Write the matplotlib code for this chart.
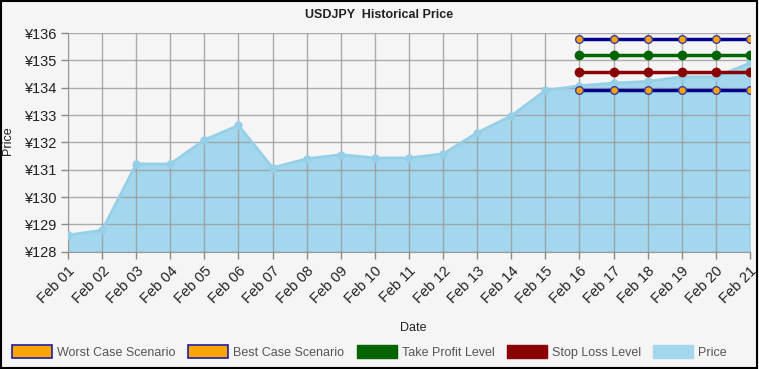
import matplotlib.pyplot as plt
import matplotlib.patches as mpatches

plt.rcParams['font.family'] = ['Liberation Sans', 'DejaVu Sans']

dates = ['Feb %02d' % d for d in range(1, 22)]
price = [128.61, 128.78, 131.21, 131.21, 132.09, 132.62, 131.07, 131.40,
         131.55, 131.43, 131.43, 131.58, 132.35, 132.97, 133.90, 134.07,
         134.17, 134.23, 134.40, 134.40, 134.90]
scen_dates = dates[15:]
worst_case = [133.90] * 6
best_case = [135.80] * 6
take_profit = [135.20] * 6
stop_loss = [134.56] * 6

yticks = [128, 129, 130, 131, 132, 133, 134, 135, 136]

fig = plt.figure(figsize=(7.59, 3.69), dpi=100, facecolor='#f5f5f5')
ax = fig.add_axes([0.0896, 0.318, 0.8984, 0.5924])
ax.set_facecolor('#f5f5f5')

x = list(range(len(dates)))
xs = x[15:]

ax.fill_between(x, price, 128, color='#a3d7ee', zorder=2)
ax.plot(x, price, color='#96cfe8', lw=2, marker='o', ms=5,
        mfc='#96cfe8', mec='#96cfe8', zorder=3)

ax.plot(xs, best_case, color='#00008b', lw=2.5, marker='o', ms=5.5,
        mfc='#ffa500', mec='#3b3ba0', mew=1, zorder=4)
ax.plot(xs, take_profit, color='#006400', lw=2.5, marker='o', ms=6,
        mfc='#006400', mec='#006400', zorder=4)
ax.plot(xs, stop_loss, color='#8b0000', lw=2.5, marker='o', ms=6,
        mfc='#8b0000', mec='#8b0000', zorder=4)
ax.plot(xs, worst_case, color='#00008b', lw=2.5, marker='o', ms=5.5,
        mfc='#ffa500', mec='#3b3ba0', mew=1, zorder=4)

ax.set_xlim(0, len(dates) - 1)
ax.set_ylim(128, 136)
ax.set_xticks(x)
ax.set_xticklabels(dates, rotation=45, ha='right', rotation_mode='anchor',
                   fontsize=10.5, color='#222222')
ax.set_yticks(yticks)
ax.set_yticklabels(['\u00a5%d' % v for v in yticks], fontsize=10.5,
                   color='#222222')
ax.tick_params(axis='both', length=5, color='#888888', width=1)
ax.grid(True, color='#999999', lw=1, alpha=0.8, zorder=1)
ax.set_axisbelow(False)
for s in ['top', 'right']:
    ax.spines[s].set_visible(False)
for s in ['left', 'bottom']:
    ax.spines[s].set_color('#999999')

fig.text(0.5, 1 - 15 / 369, 'USDJPY  Historical Price', fontsize=9,
         fontweight='bold', color='#222222', ha='center', va='center')
fig.text(8 / 759, 1 - 141 / 369, 'Price', fontsize=9, color='#222222',
         rotation=90, ha='center', va='center')
fig.text(0.545, 1 - 328 / 369, 'Date', fontsize=9, color='#222222',
         ha='center', va='center')

handles = [
    mpatches.Patch(facecolor='#ffa500', edgecolor='#1f1f9f', lw=1.2,
                   label='Worst Case Scenario'),
    mpatches.Patch(facecolor='#ffa500', edgecolor='#1f1f9f', lw=1.2,
                   label='Best Case Scenario'),
    mpatches.Patch(facecolor='#006400', edgecolor='#006400',
                   label='Take Profit Level'),
    mpatches.Patch(facecolor='#8b0000', edgecolor='#8b0000',
                   label='Stop Loss Level'),
    mpatches.Patch(facecolor='#a3d7ee', edgecolor='#a3d7ee', label='Price'),
]
fig.legend(handles=handles, loc='center', bbox_to_anchor=(0.487, 0.046),
           ncol=5, frameon=False, fontsize=9, handlelength=3.2,
           handleheight=1.2, handletextpad=0.4, columnspacing=1.0,
           labelcolor='#555555')

fig.patches.append(mpatches.Rectangle((0.001, 0.002), 0.997, 0.995,
                                      transform=fig.transFigure, fill=False,
                                      edgecolor='black', lw=1.5))

fig.savefig('out.png', dpi=100, facecolor=fig.get_facecolor())
